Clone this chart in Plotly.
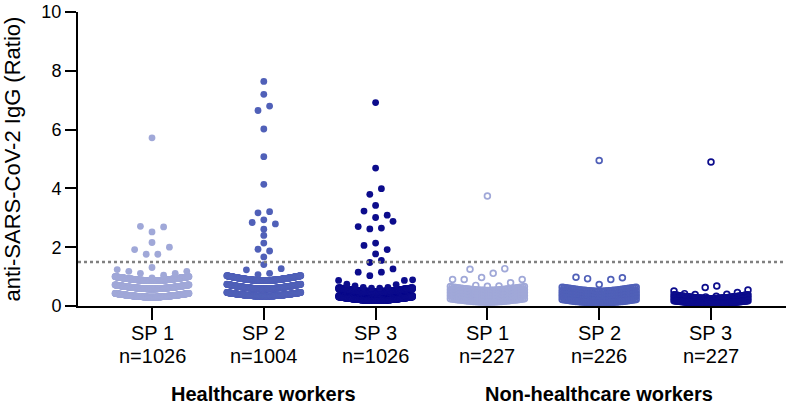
import plotly.graph_objects as go

# ---------------- data ----------------
categories = ["SP 1", "SP 2", "SP 3", "SP 1", "SP 2", "SP 3"]
n_labels = ["n=1026", "n=1004", "n=1026", "n=227", "n=226", "n=227"]
group_labels = ["Healthcare workers", "Non-healthcare workers"]
y_title = "anti-SARS-CoV-2 IgG (Ratio)"
y_ticks = [0, 2, 4, 6, 8, 10]
cutoff = 1.5

# individually visible dots, one list per swarm row (top to bottom), left to right
hcw_sp1_rows = [[5.72], [2.71, 2.52, 2.69], [2.16], [1.92, 1.76, 1.76, 2.00], [1.31],
                [1.24, 1.18, 1.11, 0.96, 1.05, 1.11, 1.18]]
hcw_sp2_rows = [[7.64], [7.20], [6.65, 6.80], [6.02], [5.08], [4.14], [3.17, 3.21],
                [2.84, 2.93, 2.79], [2.61], [2.40], [2.14], [1.93, 1.87], [1.67], [1.41],
                [1.23, 1.07, 1.11, 1.27]]
hcw_sp3_rows = [[6.92], [4.69], [3.80, 3.99], [3.42], [3.23, 3.01, 3.09],
                [2.70, 2.62, 2.65, 2.88], [2.06, 2.14, 1.92], [1.77], [1.48, 1.55],
                [1.15, 1.03, 1.15, 1.26],
                [0.87, 0.74, 0.68, 0.63, 0.61, 0.61, 0.63, 0.73, 0.87, 0.89]]
nhw_sp1_rows = [[3.74], [1.25, 0.97, 1.11, 1.27], [0.90, 0.90, 0.70, 0.67, 0.68, 0.79, 0.90]]
nhw_sp2_rows = [[4.95], [0.98, 0.93, 0.73, 0.90, 0.96]]
nhw_sp3_rows = [[4.90], [0.63, 0.68], [0.51, 0.42, 0.39, 0.31, 0.33, 0.40, 0.46, 0.54]]

# dense swarm rows: value at the row centre, value at the row ends, number of dots
hcw_sp1_band_center = [0.86, 0.58, 0.30]
hcw_sp1_band_edge = [1.00, 0.72, 0.43]
hcw_sp1_band_count = [340, 335, 334]
hcw_sp2_band_center = [0.86, 0.58, 0.33]
hcw_sp2_band_edge = [1.03, 0.74, 0.46]
hcw_sp2_band_count = [330, 325, 324]
hcw_sp3_band_center = [0.49, 0.45, 0.22, 0.18]
hcw_sp3_band_edge = [0.62, 0.58, 0.35, 0.31]
hcw_sp3_band_count = [250, 250, 247, 246]
nhw_sp1_band_center = [0.53, 0.43, 0.33, 0.23, 0.13]
nhw_sp1_band_edge = [0.66, 0.55, 0.45, 0.35, 0.25]
nhw_sp1_band_count = [43, 43, 43, 43, 43]
nhw_sp2_band_center = [0.50, 0.38, 0.28, 0.18, 0.10]
nhw_sp2_band_edge = [0.64, 0.52, 0.42, 0.32, 0.22]
nhw_sp2_band_count = [44, 44, 44, 44, 44]
nhw_sp3_band_center = [0.25, 0.16, 0.08]
nhw_sp3_band_edge = [0.38, 0.28, 0.18]
nhw_sp3_band_count = [72, 72, 72]

colors = ["#A0A8D8", "#5060B8", "#0C0C8C", "#A0A8D8", "#5060B8", "#0C0C8C"]

groups = [
    (hcw_sp1_rows, hcw_sp1_band_center, hcw_sp1_band_edge, hcw_sp1_band_count, False),
    (hcw_sp2_rows, hcw_sp2_band_center, hcw_sp2_band_edge, hcw_sp2_band_count, False),
    (hcw_sp3_rows, hcw_sp3_band_center, hcw_sp3_band_edge, hcw_sp3_band_count, False),
    (nhw_sp1_rows, nhw_sp1_band_center, nhw_sp1_band_edge, nhw_sp1_band_count, True),
    (nhw_sp2_rows, nhw_sp2_band_center, nhw_sp2_band_edge, nhw_sp2_band_count, True),
    (nhw_sp3_rows, nhw_sp3_band_center, nhw_sp3_band_edge, nhw_sp3_band_count, True),
]

# ---------------- layout helpers (swarm placement) ----------------
W, H = 788, 406
ML, MR, MT, MB = 78, 2, 7, 100
PLOT_W, PLOT_H = W - ML - MR, H - MT - MB
X_RANGE = [-0.662, 5.671]
PX_PER_UNIT = PLOT_W / (X_RANGE[1] - X_RANGE[0])
DOT_SPACING = 11.6   # px between neighbouring dots in a row
HALF_W = 37.0        # px half-width of the swarm


def offsets(n):
    if n == 1:
        return [0.0]
    s = min(DOT_SPACING, 2 * HALF_W / (n - 1))
    return [(i - (n - 1) / 2) * s for i in range(n)]


def py(pixel_y):
    """paper y coordinate for a pixel row of the page"""
    return (H - MB - pixel_y) / PLOT_H


def px(pixel_x):
    return (pixel_x - ML) / PLOT_W


fig = go.Figure()
for gi, (rows, bc, be, bn, hollow) in enumerate(groups):
    xs, ys = [], []
    for c, e, n in zip(bc, be, bn):
        for off in offsets(n):
            t = abs(off) / HALF_W
            xs.append(gi + off / PX_PER_UNIT)
            ys.append(c + (e - c) * t ** 1.6)
    for row in rows:
        for off, v in zip(offsets(len(row)), row):
            xs.append(gi + off / PX_PER_UNIT)
            ys.append(v)
    if hollow:
        marker = dict(symbol="circle-open", size=5.8, color=colors[gi],
                      line=dict(width=1.7, color=colors[gi]))
    else:
        marker = dict(symbol="circle", size=6.8, color=colors[gi], line=dict(width=0))
    fig.add_trace(go.Scatter(x=xs, y=ys, mode="markers", marker=marker,
                             cliponaxis=False, showlegend=False, hoverinfo="skip"))

fig.add_shape(type="line", xref="paper", x0=0, x1=1, yref="y", y0=cutoff, y1=cutoff,
              line=dict(color="#808080", width=2.5, dash="dot"))

font_family = "Liberation Sans, Arial, sans-serif"

fig.update_layout(
    width=W, height=H,
    margin=dict(l=ML, r=MR, t=MT, b=MB),
    paper_bgcolor="white", plot_bgcolor="white",
    font=dict(family=font_family, color="black"),
    xaxis=dict(range=X_RANGE, tickmode="array", tickvals=list(range(6)),
               ticktext=[""] * len(categories),
               showline=True, linewidth=2, linecolor="black", ticks="outside",
               ticklen=12, tickwidth=2, tickcolor="black", showgrid=False, zeroline=False),
    yaxis=dict(range=[0, 10], tickmode="array", tickvals=y_ticks,
               showline=True, linewidth=2, linecolor="black", ticks="outside",
               ticklen=11, tickwidth=2, tickcolor="black", showgrid=False, zeroline=False,
               ticklabeloverflow="allow",
               tickfont=dict(size=18, family=font_family)),
)

# y-axis title
fig.add_annotation(x=px(12), xref="paper", y=py(157), yref="paper", text=y_title,
                   textangle=-90, showarrow=False, xanchor="center", yanchor="middle",
                   font=dict(size=22, family=font_family))

# category names and n labels
for i, (cat, lab) in enumerate(zip(categories, n_labels)):
    fig.add_annotation(x=i, xref="x", y=py(333), yref="paper", text=cat, showarrow=False,
                       xanchor="center", yanchor="middle",
                       font=dict(size=20, family=font_family))
    fig.add_annotation(x=i, xref="x", y=py(357), yref="paper", text=lab, showarrow=False,
                       xanchor="center", yanchor="middle",
                       font=dict(size=20, family=font_family))

for i, lab in enumerate(group_labels):
    fig.add_annotation(x=1 + 3 * i, xref="x", y=py(396), yref="paper",
                       text=f"<b>{lab}</b>", showarrow=False, xanchor="center",
                       yanchor="middle", font=dict(size=20, family=font_family))

fig.write_html("out.html", config={"displayModeBar": False},
               post_script="document.body.style.margin='0';")
